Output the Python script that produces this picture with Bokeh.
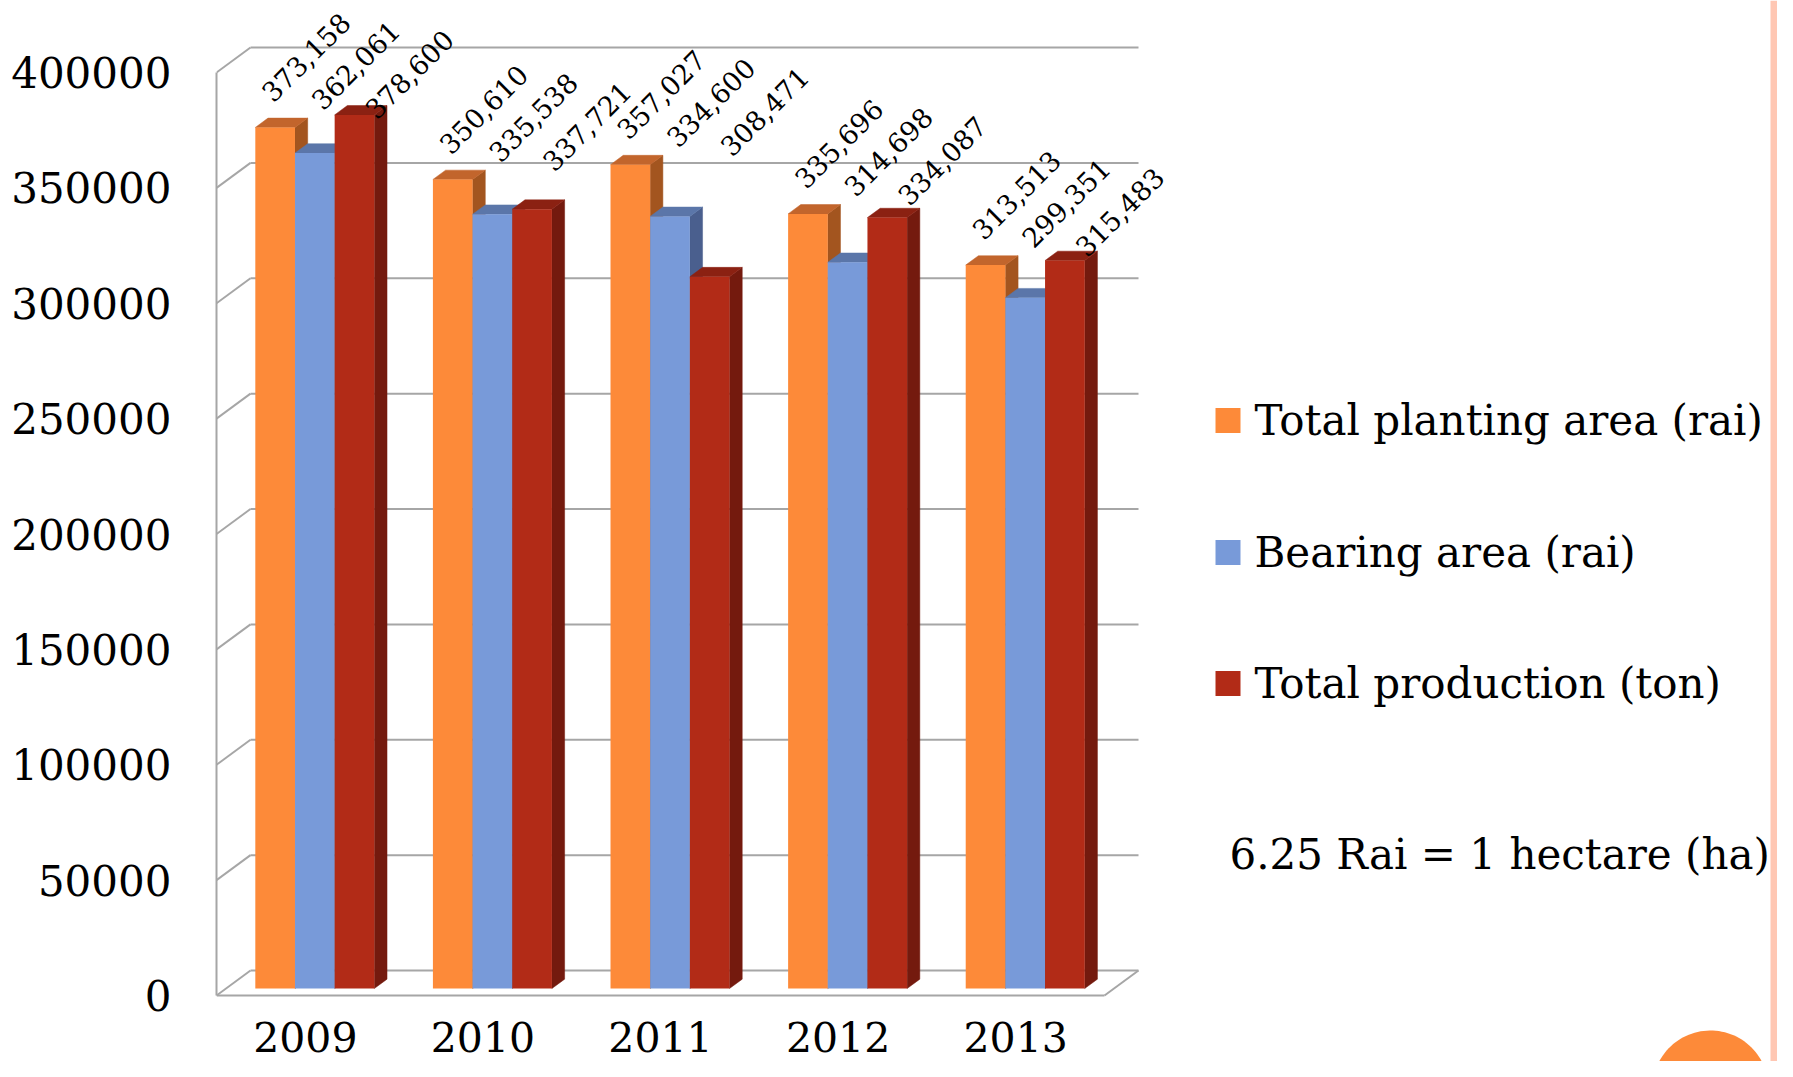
import numpy as np
from bokeh.plotting import figure
from bokeh.models import Range1d, FixedTicker, BasicTickFormatter
from bokeh.core.properties import value
from bokeh.embed import file_html
from bokeh.resources import INLINE

# ---------------- data ----------------
years = ["2009", "2010", "2011", "2012", "2013"]
planting_area = [373158, 350610, 357027, 335696, 313513]
bearing_area = [362061, 335538, 334600, 314698, 299351]
total_production = [378600, 337721, 308471, 334087, 315483]
series_names = ["Total planting area (rai)", "Bearing area (rai)", "Total production (ton)"]
y_ticks = [0, 50000, 100000, 150000, 200000, 250000, 300000, 350000, 400000]
note_text = "6.25 Rai = 1 hectare (ha)"

series = [planting_area, bearing_area, total_production]

# ---------------- style ----------------
front_colors = ["#FD8A39", "#789AD9", "#B22B17"]
top_colors = ["#C2652C", "#5B76A9", "#8B2112"]
side_colors = ["#A3551F", "#4A5F8E", "#741A0E"]
GRID = "#A6A6A6"
FONT = "DejaVu Serif"

W, H = 1777, 1061
LEFT = 216              # frame left (front axis) in px
Y0 = 995                # front zero line in px from top
K = 923 / 400000.0      # px per value unit
KX = 177.6              # px per category


def ux(px):
    return px / KX


def uy(px):
    return px / K


p = figure(width=W, height=H, output_backend="svg", toolbar_location=None,
           x_range=Range1d(0, ux(W - LEFT)), y_range=Range1d(-uy(H - Y0), uy(Y0)),
           x_axis_location=None, y_axis_location="left",
           min_border_left=LEFT, min_border_right=0, min_border_top=0, min_border_bottom=0)
p.grid.visible = False
p.outline_line_color = None
p.background_fill_color = "white"
p.border_fill_color = "white"

ax = p.yaxis[0]
ax.ticker = FixedTicker(ticks=y_ticks)
ax.formatter = BasicTickFormatter(use_scientific=False)
ax.bounds = (y_ticks[0], y_ticks[-1])
ax.axis_line_color = GRID
ax.axis_line_width = 2
ax.major_tick_line_color = None
ax.minor_tick_line_color = None
ax.major_tick_out = 0
ax.major_tick_in = 0
ax.major_label_standoff = 45
ax.major_label_text_font = FONT
ax.major_label_text_font_size = "42px"
ax.major_label_text_color = "black"

ncat = len(years)
DXB = ux(34)     # depth of the whole chart
DYB = uy(25)

# back wall gridlines and left wall diagonals
p.multi_line(xs=[[DXB, ncat + DXB] for v in y_ticks],
             ys=[[v + DYB, v + DYB] for v in y_ticks], line_color=GRID, line_width=2)
p.multi_line(xs=[[0, DXB] for v in y_ticks],
             ys=[[v, v + DYB] for v in y_ticks], line_color=GRID, line_width=2)
# floor front edge and right edge
p.multi_line(xs=[[0, ncat], [ncat, ncat + DXB]], ys=[[0, 0], [0, DYB]],
             line_color=GRID, line_width=2)

# 3D bars
F0 = 0.28        # depth of the bars' front faces
BD = 0.3735      # depth of bars
bw = ux(39.67)
dxd, dyd = BD * DXB, BD * DYB
bottom = F0 * DYB
for s, vals in enumerate(series):
    lefts = [i + 0.5 + F0 * DXB - 1.5 * bw + s * bw for i in range(ncat)]
    rights = [l + bw for l in lefts]
    tops = [v + F0 * DYB for v in vals]
    p.patches(xs=[[r, r, r + dxd, r + dxd] for r in rights],
              ys=[[bottom, t, t + dyd, bottom + dyd] for t in tops],
              fill_color=side_colors[s], line_color=side_colors[s], line_width=0.5)
    p.patches(xs=[[l, r, r + dxd, l + dxd] for l, r in zip(lefts, rights)],
              ys=[[t, t, t + dyd, t + dyd] for t in tops],
              fill_color=top_colors[s], line_color=top_colors[s], line_width=0.5)
    p.quad(left=lefts, right=rights, bottom=bottom, top=tops,
           fill_color=front_colors[s], line_color=None)

# value labels (rotated), laid out in a row above each year's first bar
lab_dx_px = [-9, 1, 15]
lab_up_px = [31, 23, 14]
for s, vals in enumerate(series):
    xs = [i + 0.5 + F0 * DXB - 1.5 * bw + (s + 0.5) * bw + ux(lab_dx_px[s]) for i in range(ncat)]
    ys = [planting_area[i] + F0 * DYB + uy(lab_up_px[s]) for i in range(ncat)]
    p.text(x=xs, y=ys, text=[f"{v:,}" for v in vals], angle=np.pi / 4,
           text_align="left", text_baseline="alphabetic",
           text_font=value(FONT), text_font_size="27px", text_color="black")

# category labels
p.text(x=[i + 0.5 for i in range(ncat)], y=[-uy(1036 - Y0)] * ncat, text=years,
       text_align="center", text_baseline="middle",
       text_font=value(FONT), text_font_size="41px", text_color="black")

# legend
rows = [420, 552, 683]
sq = 25
LX = 1215
p.quad(left=[ux(LX - LEFT)] * 3, right=[ux(LX + sq - LEFT)] * 3,
       bottom=[uy(Y0 - (r + sq / 2)) for r in rows], top=[uy(Y0 - (r - sq / 2)) for r in rows],
       fill_color=front_colors, line_color=None)
p.text(x=[ux(LX + 39 - LEFT)] * 3, y=[uy(Y0 - r) for r in rows], text=series_names,
       text_align="left", text_baseline="middle",
       text_font=value(FONT), text_font_size="42px", text_color="black")

# note
p.text(x=[ux(1229 - LEFT)], y=[uy(Y0 - 854)], text=[note_text],
       text_align="left", text_baseline="middle",
       text_font=value(FONT), text_font_size="42px", text_color="black")

# decorative circle and stripe
t = np.linspace(0, 2 * np.pi, 120)
cx, cy, rr = ux(1710 - LEFT), -uy(1088 - Y0), 58
p.patch(x=cx + ux(rr * np.cos(t)), y=cy + uy(rr * np.sin(t)), fill_color="#FD8A39", line_color=None)
p.quad(left=[ux(1770 - LEFT)], right=[ux(W - LEFT)], bottom=[-uy(H - Y0)], top=[uy(Y0)],
       fill_color="#FFC7B3", line_color=None)

open("out.html", "w").write(file_html(p, INLINE))
